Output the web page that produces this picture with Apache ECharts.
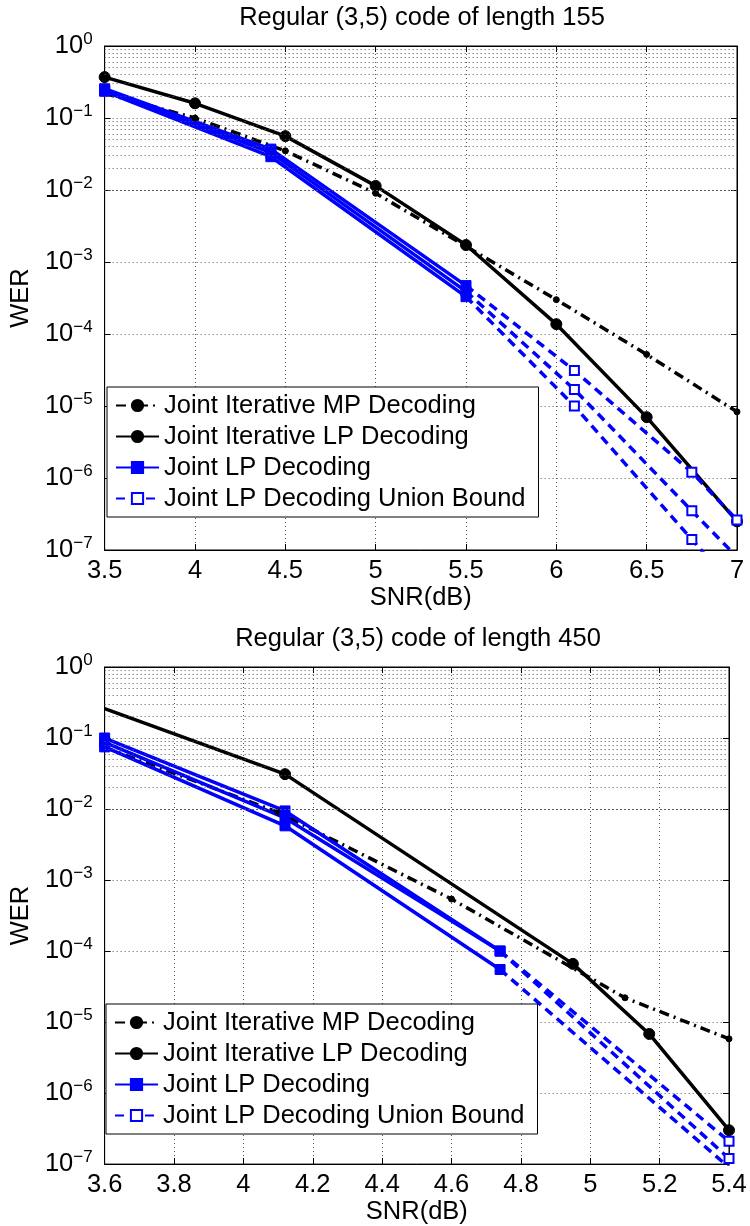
<!DOCTYPE html>
<html>
<head>
<meta charset="utf-8">
<script src="https://cdn.jsdelivr.net/npm/echarts@6/dist/echarts.min.js"></script>
<style>
  html, body { margin: 0; padding: 0; background: #fff; }
  #chart { width: 750px; height: 1226px; }
</style>
</head>
<body>
<div id="chart"></div>
<script>
const FONT = '"Liberation Sans", Arial, Helvetica, sans-serif';
const names = ['Joint Iterative MP Decoding', 'Joint Iterative LP Decoding', 'Joint LP Decoding', 'Joint LP Decoding Union Bound'];
const titles = ['Regular (3,5) code of length 155', 'Regular (3,5) code of length 450'];

// length 155
const snrTopIter = [3.5, 4, 4.5, 5, 5.5, 6, 6.5, 7];
const werTopMP = [0.22, 0.10, 0.035, 0.009, 0.00165, 3.0e-4, 5.2e-5, 8.3e-6];
const werTopILP = [0.37, 0.16, 0.056, 0.0114, 0.00172, 1.37e-4, 7.0e-6, 2.5e-7];
const snrTopLP = [3.5, 4.42, 5.5];
const werTopLP = [[0.255, 0.037, 4.7e-4], [0.245, 0.033, 3.9e-4], [0.235, 0.029, 3.3e-4]];
const snrTopUB = [5.5, 6.1, 6.75, 7];
const werTopUB = [[4.7e-4, 3.1e-5, 1.2e-6, 2.6e-7], [3.9e-4, 1.7e-5, 3.5e-7, 8e-8], [3.3e-4, 1.0e-5, 1.4e-7, 2.7e-8]];

// length 450
const snrBotMP = [3.6, 4.1, 4.6, 5.1, 5.4];
const werBotMP = [0.074, 0.009, 5.4e-4, 2.2e-5, 5.8e-6];
const snrBotILP = [3.6, 4.12, 4.95, 5.17, 5.4];
const werBotILP = [0.26, 0.031, 6.6e-5, 6.8e-6, 3.0e-7];
const snrBotLP = [3.6, 4.12, 4.74];
const werBotLP = [[0.100, 0.0094, 1.0e-4], [0.087, 0.0075, 1.0e-4], [0.075, 0.0058, 5.5e-5]];
const snrBotUB = [4.74, 5.4];
const werBotUB = [[1.0e-4, 2.1e-7], [1.0e-4, 1.2e-7], [5.5e-5, 9e-8]];

// minor log grid positions (2..9 per decade)
const minorTicks = [];
for (let e = -7; e < 0; e++) for (let m = 2; m <= 9; m++) minorTicks.push(m * Math.pow(10, e));

const grids = [
  { left: 97, top: 46, width: 640, height: 504 },
  { left: 97, top: 667, width: 632, height: 501 },
];
const xRanges = [[3.5, 7, 0.5], [3.6, 5.4, 0.2]];

const dotted = { color: '#555', width: 1, type: [1, 3] };

function supLabel(v) {
  const e = Math.round(Math.log10(v));
  return '{a|10}{b|' + (e < 0 ? '\u2212' + (-e) : e) + '}';
}

const xAxes = [], yAxes = [];
grids.forEach((g, i) => {
  const [mn, mx, iv] = xRanges[i];
  xAxes.push({
    gridIndex: i, type: 'value', min: mn, max: mx, interval: iv, position: 'bottom',
    name: 'SNR(dB)', nameLocation: 'middle', nameGap: 30,
    nameTextStyle: { fontSize: 25.5, fontFamily: FONT, color: '#000' },
    axisLine: { lineStyle: { color: '#000', width: 1 } },
    axisTick: { inside: true, length: 6, lineStyle: { color: '#000' } },
    axisLabel: { fontSize: 25.5, fontFamily: FONT, color: '#000', margin: 8 },
    splitLine: { show: true, lineStyle: dotted },
  });
  xAxes.push({
    gridIndex: i, type: 'value', min: mn, max: mx, interval: iv, position: 'top',
    axisLine: { lineStyle: { color: '#000', width: 1 } },
    axisTick: { inside: true, length: 6, lineStyle: { color: '#000' } },
    axisLabel: { show: false }, splitLine: { show: false },
  });
  yAxes.push({
    gridIndex: i, type: 'log', logBase: 10, min: 1e-7, max: 1, interval: 1, position: 'left',
    name: 'WER', nameLocation: 'middle', nameGap: 52,
    nameTextStyle: { fontSize: 25.5, fontFamily: FONT, color: '#000' },
    axisLine: { show: true, lineStyle: { color: '#000', width: 1 } },
    axisTick: { inside: true, length: 6, lineStyle: { color: '#000' } },
    axisLabel: {
      margin: 12, formatter: supLabel,
      rich: {
        a: { fontSize: 25.5, fontFamily: FONT, color: '#000', lineHeight: 30 },
        b: { fontSize: 17, fontFamily: FONT, color: '#000', verticalAlign: 'top' },
      },
    },
    splitLine: { show: true, lineStyle: dotted },
  });
  yAxes.push({
    gridIndex: i, type: 'log', logBase: 10, min: 1e-7, max: 1, interval: 1, position: 'right',
    axisLine: { show: true, lineStyle: { color: '#000', width: 1 } },
    axisTick: { inside: true, length: 6, lineStyle: { color: '#000' } },
    axisLabel: { show: false }, splitLine: { show: false },
  });
});

function pts(xs, ys, hideFirst) {
  return xs.map((x, k) => (hideFirst && k === 0) ? { value: [x, ys[k]], symbol: 'none' } : [x, ys[k]]);
}

const mpStyle = { symbol: 'circle', symbolSize: 6, color: '#000', width: 3.5, type: [10, 5, 2, 5] };
const ilpStyle = { symbol: 'circle', symbolSize: 11, color: '#000', width: 3.5, type: 'solid' };
const lpStyle = { symbol: 'rect', symbolSize: 10, color: '#0000ff', width: 3.5, type: 'solid' };
const ubStyle = { symbol: 'emptyRect', symbolSize: 9, color: '#0000ff', width: 3.5, type: [9, 6] };

function line(name, data, st, gi) {
  return {
    name, type: 'line', data, xAxisIndex: gi * 2, yAxisIndex: gi * 2,
    symbol: st.symbol, symbolSize: st.symbolSize, showSymbol: true, clip: true,
    lineStyle: { color: st.color, width: st.width, type: st.type },
    itemStyle: { color: st.color, borderColor: st.color, borderWidth: st.symbol === 'emptyRect' ? 3 : 1 },
    emphasis: { disabled: true }, z: 3,
  };
}

function minorGrid(gi) {
  return {
    type: 'line', data: [], xAxisIndex: gi * 2, yAxisIndex: gi * 2, silent: true,
    markLine: {
      silent: true, symbol: 'none', label: { show: false }, animation: false,
      lineStyle: dotted, emphasis: { disabled: true },
      data: minorTicks.map(v => ({ yAxis: v })),
    },
    z: 1,
  };
}

const series = [
  minorGrid(0),
  minorGrid(1),
  // top
  line(names[0], pts(snrTopIter, werTopMP), mpStyle, 0),
  line(names[1], pts(snrTopIter, werTopILP), ilpStyle, 0),
  ...werTopUB.map(w => line(names[3], pts(snrTopUB, w, true), ubStyle, 0)),
  ...werTopLP.map(w => line(names[2], pts(snrTopLP, w), lpStyle, 0)),
  // bottom
  line(names[0], pts(snrBotMP, werBotMP), mpStyle, 1),
  line(names[1], pts(snrBotILP, werBotILP, true), ilpStyle, 1),
  ...werBotUB.map(w => line(names[3], pts(snrBotUB, w, true), ubStyle, 1)),
  ...werBotLP.map(w => line(names[2], pts(snrBotLP, w), lpStyle, 1)),
];

const legendBase = {
  data: names, orient: 'vertical', itemGap: 0, itemWidth: 43, itemHeight: 14,
  padding: [3, 13, 3, 8], borderColor: '#000', borderWidth: 1, backgroundColor: '#fff',
  textStyle: { fontSize: 25.5, fontFamily: FONT, color: '#000', lineHeight: 31 },
  selectedMode: false, z: 10,
};

const option = {
  animation: false,
  backgroundColor: '#fff',
  title: [
    { text: titles[0], left: 417, top: 0, textAlign: 'center', textStyle: { fontSize: 25.5, fontWeight: 'normal', fontFamily: FONT, color: '#000' } },
    { text: titles[1], left: 413, top: 621, textAlign: 'center', textStyle: { fontSize: 25.5, fontWeight: 'normal', fontFamily: FONT, color: '#000' } },
  ],
  legend: [
    Object.assign({ left: 107, top: 387 }, legendBase),
    Object.assign({ left: 106, top: 1004 }, legendBase),
  ],
  grid: grids.map(g => Object.assign({ show: true, borderColor: '#000', borderWidth: 1, backgroundColor: '#fff' }, g)),
  xAxis: xAxes,
  yAxis: yAxes,
  series,
};

const chart = echarts.init(document.getElementById('chart'), null, { renderer: 'canvas' });
chart.setOption(option);
</script>
</body>
</html>
